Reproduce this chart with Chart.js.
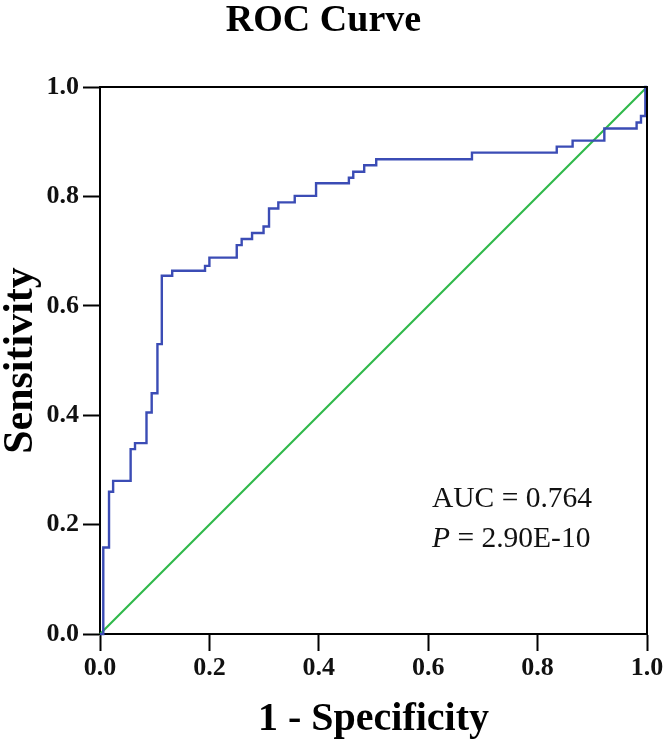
<!DOCTYPE html>
<html>
<head>
<meta charset="utf-8">
<script src="https://cdn.jsdelivr.net/npm/chart.js@4/dist/chart.umd.min.js"></script>
<style>
  body { margin: 0; background: #fff; }
  canvas { display: block; }
</style>
</head>
<body>
<canvas id="roc" width="666" height="746"></canvas>
<script>
// ROC curve corners: the curve steps right at old sensitivity, then up to the new one
const fpr = [0, 0.006, 0.0165, 0.024, 0.056, 0.064, 0.085, 0.0945, 0.105, 0.113,
             0.132, 0.192, 0.2, 0.25, 0.259, 0.278, 0.299, 0.309, 0.326, 0.356,
             0.395, 0.455, 0.463, 0.483, 0.505, 0.68, 0.835, 0.864, 0.922, 0.981,
             0.989, 0.997, 1.0]
const tpr = [0, 0.158, 0.26, 0.28, 0.338, 0.349, 0.405, 0.44, 0.53, 0.655,
             0.664, 0.673, 0.688, 0.711, 0.722, 0.733, 0.745, 0.778, 0.789, 0.801,
             0.824, 0.834, 0.845, 0.857, 0.868, 0.88, 0.891, 0.902, 0.924, 0.935,
             0.947, 1.0, 1.0]

// reference line
const refX = [0, 1]
const refY = [0, 1]

const tickValues = [0, 0.2, 0.4, 0.6, 0.8, 1.0]
const statLines = ['AUC = 0.764', '2.90E-10']

const serif = "'Liberation Serif', 'Times New Roman', serif"

// top and right edges of the frame, plus the AUC / P text
const framePlugin = {
    id: 'frame',
    afterDraw(chart) {
        const {ctx, chartArea: a} = chart
        ctx.save()
        ctx.strokeStyle = '#000'
        ctx.lineWidth = 2
        ctx.beginPath()
        ctx.moveTo(a.left, a.top)
        ctx.lineTo(a.right, a.top)
        ctx.lineTo(a.right, a.bottom)
        ctx.stroke()

        ctx.fillStyle = '#111'
        ctx.textBaseline = 'alphabetic'
        ctx.textAlign = 'left'
        ctx.font = '29.5px ' + serif
        ctx.fillText(statLines[0], 432, 507)
        ctx.font = 'italic 29.5px ' + serif
        ctx.fillText('P', 432, 547)
        let w = ctx.measureText('P').width
        ctx.font = '29.5px ' + serif
        ctx.fillText(' = ' + statLines[1], 432 + w, 547)
        ctx.restore()
    }
}

const tickFont = {family: serif, size: 26, weight: 'bold'}

new Chart(document.getElementById('roc'), {
    type: 'line',
    data: {
        datasets: [{
            data: fpr.map((x, i) => ({x: x, y: tpr[i]})),
            borderColor: '#3b4cb5',
            borderWidth: 2.4,
            pointRadius: 0,
            stepped: true,
            clip: 4
        }, {
            data: refX.map((x, i) => ({x: x, y: refY[i]})),
            borderColor: '#2fb84a',
            borderWidth: 2.2,
            pointRadius: 0,
            clip: 4
        }]
    },
    options: {
        responsive: false,
        animation: false,
        devicePixelRatio: 1,
        layout: {padding: {top: 0, right: 19, bottom: 0, left: 0}},
        plugins: {
            legend: {display: false},
            tooltip: {enabled: false},
            title: {
                display: true,
                text: 'ROC Curve',
                color: '#000',
                font: {family: serif, size: 38, weight: 'bold', lineHeight: 1},
                padding: {top: 2, bottom: 47}
            }
        },
        scales: {
            x: {
                type: 'linear',
                min: 0,
                max: 1,
                afterFit(s) { s.height = 112 },
                afterBuildTicks(s) { s.ticks = tickValues.map(v => ({value: v})) },
                ticks: {
                    color: '#111',
                    font: tickFont,
                    padding: 2,
                    maxRotation: 0,
                    callback: v => v.toFixed(1)
                },
                grid: {drawOnChartArea: false, drawTicks: true, tickLength: 17, tickWidth: 2, tickColor: '#000'},
                border: {display: true, color: '#000', width: 2},
                title: {
                    display: true,
                    text: '1 - Specificity',
                    color: '#000',
                    font: {family: serif, size: 40, weight: 'bold', lineHeight: 1},
                    padding: {top: 0, bottom: 6}
                }
            },
            y: {
                min: 0,
                max: 1,
                afterFit(s) { s.width = 100 },
                afterBuildTicks(s) { s.ticks = tickValues.map(v => ({value: v})) },
                ticks: {
                    color: '#111',
                    font: tickFont,
                    padding: 4,
                    callback: v => v.toFixed(1)
                },
                grid: {drawOnChartArea: false, drawTicks: true, tickLength: 17, tickWidth: 2, tickColor: '#000'},
                border: {display: true, color: '#000', width: 2},
                title: {
                    display: true,
                    text: 'Sensitivity',
                    color: '#000',
                    font: {family: serif, size: 42, weight: 'bold', lineHeight: 1},
                    padding: {top: 0, bottom: 0}
                }
            }
        }
    },
    plugins: [framePlugin]
})
</script>
</body>
</html>
